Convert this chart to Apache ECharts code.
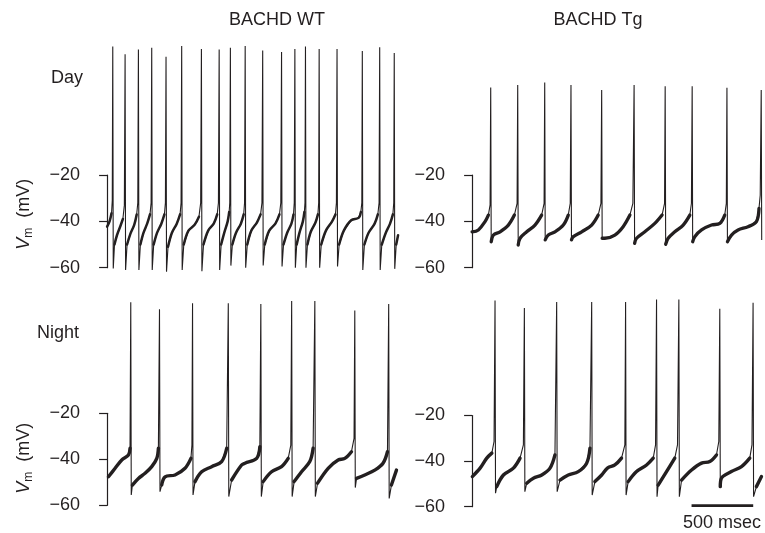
<!DOCTYPE html>
<html>
<head>
<meta charset="utf-8">
<script src="https://cdn.jsdelivr.net/npm/echarts@6/dist/echarts.min.js"></script>
<style>
html,body{margin:0;padding:0;background:#fff;}
#c{width:765px;height:533px;}
</style>
</head>
<body>
<div id="c"></div>
<script>
// ---- Data (time in ms, membrane potential in mV) ----
const columnTitles = ['BACHD WT', 'BACHD Tg'];
const rowLabels = ['Day', 'Night'];
const yTicks = [-60, -40, -20];
const scaleBarTimes = [1780, 2280];   // 500 msec
const scaleBarLevel = -59.5;
const scaleBarLabel = '500 msec';

const wtDay = [
[0,-42.3],[20,-40],[36,-36.5],[42,-31],
[46,35.4],[50,-60.3],[60,-50],[80,-46],[108,-42],[128,-39],[140,-33],
[146,32.1],[150,-61],[162,-50],[188,-45.5],[220,-41.5],[240,-37],[249,-32],
[254,34.2],[258,-61],[270,-50],[295,-45],[325,-41],[348,-37],[357,-32],
[362,34.9],[366,-61],[378,-50],[405,-45],[440,-41],[465,-37],[473,-32],
[478,31.0],[482,-61.7],[494,-51],[525,-45],[565,-41],[592,-37],[600,-32],
[605,35.7],[609,-61],[622,-50],[660,-44],[710,-41.5],[745,-38],[759,-32],
[765,34.4],[769,-61.5],[782,-50],[820,-44],[865,-41],[893,-37],[903,-32],
[909,34.2],[913,-61],[925,-50],[950,-45],[978,-40],[990,-36],[995,-32],
[1000,34.9],[1004,-59.1],[1016,-50],[1045,-45],[1085,-41],[1108,-37],[1115,-32],
[1120,35.7],[1124,-60],[1137,-50],[1170,-44],[1215,-40.5],[1245,-37],[1256,-32],
[1262,33.7],[1266,-59],[1279,-50],[1315,-44],[1365,-41],[1398,-37],[1409,-32],
[1415,33.1],[1419,-59.5],[1431,-50],[1460,-45],[1495,-41],[1512,-37],[1518,-32],
[1523,34.4],[1527,-60],[1538,-50],[1560,-45],[1588,-40],[1600,-36],[1605,-32],
[1609,35.4],[1613,-60],[1625,-50],[1652,-44.5],[1690,-40.5],[1710,-37],[1716,-32],
[1720,34.4],[1724,-60],[1737,-50],[1775,-44],[1825,-40],[1852,-37],[1860,-32],
[1865,34.4],[1869,-59.5],[1882,-50],[1920,-44],[1980,-39.5],[2040,-38.5],[2058,-36],[2066,-32],
[2070,33.5],[2074,-61],[2087,-50],[2120,-45],[2170,-41],[2196,-37],[2206,-32],
[2211,35.1],[2215,-61],[2228,-50],[2260,-45],[2295,-41],[2318,-37],[2325,-32],
[2329,32.6],[2333,-60.5],[2345,-50],[2360,-46]
];

const tgDay = [
[0,-44.5],[51,-43.7],[105,-40.1],[132,-37.3],[146,-32.9],
[151,17.8],[155,-48.8],[173,-45.9],[227,-44.5],[294,-41.6],[343,-37.3],[365,-32.2],
[370,18.8],[374,-50.2],[389,-47.3],[443,-44.5],[510,-41.6],[564,-37.3],[584,-32.2],
[589,19.9],[593,-48],[618,-45.9],[672,-44.5],[740,-41.6],[780,-37.3],[796,-32.2],
[802,18.8],[806,-48],[821,-46.6],[889,-44.5],[970,-41.6],[1023,-37.3],[1045,-32.2],
[1051,16.7],[1055,-47.3],[1077,-47.3],[1158,-45.9],[1225,-42.3],[1280,-37.3],[1304,-32.2],
[1314,18.8],[1318,-49.5],[1334,-47.3],[1401,-44.5],[1482,-40.9],[1541,-37.3],[1561,-32.2],
[1566,18.3],[1570,-49.9],[1590,-47.3],[1644,-44.5],[1712,-41.6],[1766,-37.3],[1779,-32.2],
[1785,18.3],[1789,-48.8],[1806,-46.6],[1861,-43.7],[1942,-41.6],[2009,-40.9],[2049,-37.3],[2062,-32.2],
[2067,17.6],[2071,-48.8],[2104,-45.9],[2157,-43.7],[2238,-42.3],[2306,-40.1],[2327,-34.4],[2337,-28.6],
[2345,16.7],[2349,-48]
];

const wtNight = [
[11,-47.6],[65,-43.9],[119,-40.3],[173,-38.1],[186,-35.2],
[192,28.3],[196,-55.5],[205,-51.2],[254,-48.3],[308,-46.1],[362,-43.2],[403,-39.6],[416,-35.2],
[425,25.2],[429,-54.1],[443,-51.2],[470,-47.6],[551,-46.8],[632,-43.9],[680,-39.6],[688,-33.8],
[693,27.8],[697,-55.5],[713,-49.7],[767,-45.4],[848,-43.2],[929,-41],[970,-35.2],
[983,27.8],[987,-56.2],[1010,-49],[1091,-42.5],[1118,-41.7],[1213,-39.6],[1239,-34.5],
[1247,27.5],[1251,-56.2],[1266,-49.7],[1334,-45.4],[1415,-43.2],[1469,-39.6],[1490,-33.8],
[1497,28.8],[1501,-56.2],[1517,-49.7],[1577,-45.4],[1644,-41],[1671,-35.2],
[1685,28.8],[1689,-56.2],[1707,-50.4],[1793,-43.9],[1874,-40.3],[1928,-39.6],[1982,-36.7],[2003,-30.9],
[2009,24.7],[2013,-52.3],[2023,-48.3],[2090,-46.8],[2171,-44.7],[2238,-41.7],[2274,-36.7],
[2284,27.5],[2288,-57],[2306,-51.2],[2347,-44.7]
];

const tgNight = [
[2,-46.8],[65,-43.1],[119,-38.7],[160,-36.5],[178,-31.4],
[186,30.4],[190,-54.1],[200,-51.2],[254,-46.1],[335,-43.1],[389,-38.7],[416,-32.9],
[424,27.2],[428,-53.4],[443,-49.7],[497,-47.5],[565,-46.1],[632,-43.1],[672,-37.3],
[686,29.8],[690,-53.4],[713,-48.3],[780,-46.1],[861,-44.6],[929,-40.9],[956,-34.3],
[970,29.8],[974,-54.9],[996,-49],[1051,-46.1],[1100,-43],[1158,-41.7],[1212,-38.7],[1239,-32.9],
[1245,29.8],[1249,-54.9],[1266,-49],[1334,-44.6],[1415,-41.7],[1469,-38.7],[1488,-32.9],
[1496,30.9],[1500,-55.6],[1509,-50.5],[1577,-44.6],[1644,-38.7],[1666,-32.9],
[1677,30.9],[1681,-55.6],[1699,-48.3],[1780,-43.9],[1861,-40.9],[1928,-40.2],[1982,-37.3],[2001,-31.4],
[2009,26.8],[2013,-51.2],[2022,-47.5],[2103,-44.6],[2185,-42.4],[2252,-38.7],[2270,-32.9],
[2279,29.4],[2283,-55.6],[2306,-51.2],[2347,-46.8]
];

// ---- Layout ----
const INK = '#231f20';
const FONT = '"Liberation Sans", Arial, Helvetica, sans-serif';
const panels = [
  {data: wtDay,   left: 96,  top: 175,   height: 92.7, name: true,  shift: 14, band: 2.5},
  {data: tgDay,   left: 461, top: 175,   height: 92.7, name: false, shift: 0,  band: 3.3},
  {data: wtNight, left: 96,  top: 413.3, height: 92,   name: true,  shift: 2,  band: 3.4},
  {data: tgNight, left: 461, top: 415.5, height: 91.2, name: false, shift: 0,  band: 3.4}
];
const PANEL_W = 307; // px for -90..2400 ms

const grids = [], xAxes = [], yAxes = [], series = [];
panels.forEach((p, i) => {
  grids.push({left: p.left, top: p.top, width: PANEL_W, height: p.height, containLabel: false, outerBoundsMode: 'none'});
  xAxes.push({type: 'value', gridIndex: i, min: -90, max: 2400, show: false});
  yAxes.push({
    type: 'value', gridIndex: i, min: yTicks[0], max: yTicks[yTicks.length - 1], interval: 20,
    axisLine: {show: true, lineStyle: {color: INK, width: 1.2}},
    axisTick: {show: true, length: 8, lineStyle: {color: INK, width: 1.2}},
    axisLabel: {color: INK, fontSize: 18, fontFamily: FONT, margin: 16,
      formatter: v => String(v).replace('-', '\u2212')},
    splitLine: {show: false},
    name: p.name ? '{i|V}{s|m}{t|  (mV)}' : '',
    nameLocation: 'middle', nameRotate: 90, nameGap: 61,
    nameTextStyle: {color: INK, fontFamily: FONT, padding: [0, 0, 0, p.shift], rich: {
      i: {fontStyle: 'italic', fontSize: 18, fontFamily: FONT, color: INK, lineHeight: 22, verticalAlign: 'middle'},
      s: {fontSize: 12, fontFamily: FONT, color: INK, lineHeight: 22, verticalAlign: 'bottom'},
      t: {fontSize: 18, fontFamily: FONT, color: INK, lineHeight: 22, verticalAlign: 'middle'}
    }}
  });
  // thin full trace (spikes)
  series.push({
    type: 'line', xAxisIndex: i, yAxisIndex: i, data: p.data, showSymbol: false, symbol: 'none',
    clip: false, animation: false, silent: true,
    lineStyle: {color: INK, width: 1.1}
  });
  // thicker subthreshold band
  series.push({
    type: 'line', xAxisIndex: i, yAxisIndex: i,
    data: p.data.map(d => (d[1] > -34 || d[1] < -52) ? [d[0], '-'] : d),
    showSymbol: false, symbol: 'none', connectNulls: false, smooth: 0.35,
    clip: false, animation: false, silent: true,
    lineStyle: {color: INK, width: p.band, join: 'round', cap: 'round'}
  });
});
// scale bar in the last panel
series.push({
  type: 'line', xAxisIndex: 3, yAxisIndex: 3,
  data: scaleBarTimes.map(t => [t, scaleBarLevel]),
  showSymbol: false, symbol: 'none', clip: false, animation: false, silent: true,
  lineStyle: {color: INK, width: 2.7, cap: 'butt'}
});

const txt = (text, x, y, align) => ({
  type: 'text', x: x, y: y, silent: true,
  style: {text: text, fill: INK, font: '18px ' + FONT, textAlign: align, textVerticalAlign: 'middle'}
});

const chart = echarts.init(document.getElementById('c'), null, {renderer: 'canvas'});
chart.setOption({
  backgroundColor: '#ffffff',
  animation: false,
  grid: grids, xAxis: xAxes, yAxis: yAxes, series: series,
  graphic: [
    txt(columnTitles[0], 277, 20, 'center'),
    txt(columnTitles[1], 598, 20, 'center'),
    txt(rowLabels[0], 51, 78, 'left'),
    txt(rowLabels[1], 37, 333, 'left'),
    txt(scaleBarLabel, 722, 523, 'center')
  ]
});
</script>
</body>
</html>
